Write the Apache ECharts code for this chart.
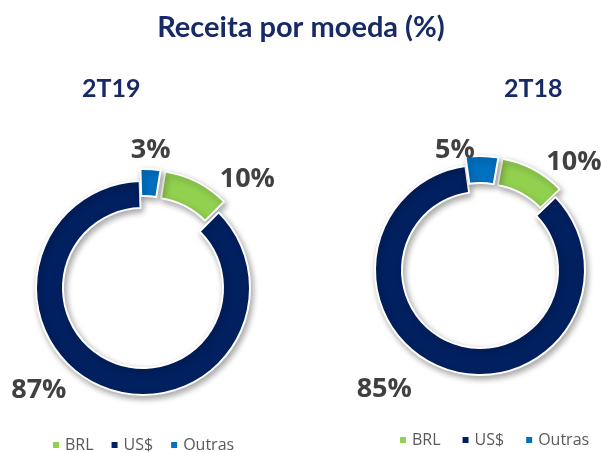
<!DOCTYPE html>
<html>
<head>
<meta charset="utf-8">
<script src="https://cdn.jsdelivr.net/npm/echarts@6/dist/echarts.min.js"></script>
<style>
  html, body { margin: 0; padding: 0; background: #fff; }
  #chart { width: 602px; height: 452px; }
</style>
</head>
<body>
<div id="chart"></div>
<script>
// dados do gráfico
var categories = ['BRL', 'US$', 'Outras'];
var values2T19 = [10, 87, 3];
var values2T18 = [10, 85, 5];
var exploded = [true, false, true];
var colors = ['#92D050', '#002060', '#0070C0'];

window.onload = function () {
  drawChart();
};

function pieData(values) {
  return categories.map(function (name, i) {
    return { name: name, value: values[i], selected: exploded[i] };
  });
}

// deslocamento dos rótulos em relação à posição padrão
function pieSeries(name, center, radius, startAngle, offset, values, shifts) {
  return {
    name: name,
    type: 'pie',
    center: center,
    radius: radius,
    startAngle: startAngle,
    clockwise: true,
    selectedMode: 'multiple',
    selectedOffset: offset,
    avoidLabelOverlap: false,
    itemStyle: {
      borderColor: '#fff',
      borderWidth: 2,
      shadowBlur: 6,
      shadowColor: 'rgba(0,0,0,0.35)',
      shadowOffsetX: 2,
      shadowOffsetY: 3
    },
    label: {
      show: true,
      position: 'outside',
      formatter: '{c}%',
      fontFamily: 'Open Sans',
      fontWeight: 'bold',
      fontSize: 27,
      color: '#404040'
    },
    labelLine: { show: false, length: 6, length2: 0 },
    labelLayout: function (params) {
      var s = shifts[params.dataIndex];
      return { dx: s[0], dy: s[1] };
    },
    emphasis: { disabled: true },
    data: pieData(values)
  };
}

function drawChart() {
  var myChart = echarts.init(document.getElementById('chart'));
  var legendText = { fontFamily: 'Open Sans', fontSize: 16, color: '#595959' };
  var option = {
    color: colors,
    animation: false,
    title: [
      {
        text: 'Receita por moeda (%)',
        left: 'center',
        top: 8,
        textStyle: { fontFamily: 'Lato', fontWeight: 'bold', fontSize: 29, color: '#172A66' }
      },
      {
        text: '2T19',
        left: 77,
        top: 71,
        textStyle: { fontFamily: 'Lato', fontWeight: 'bold', fontSize: 25, color: '#172A66' }
      },
      {
        text: '2T18',
        left: 499,
        top: 71,
        textStyle: { fontFamily: 'Lato', fontWeight: 'bold', fontSize: 25, color: '#172A66' }
      }
    ],
    legend: [
      {
        data: categories,
        left: 46,
        top: 432,
        icon: 'rect',
        itemWidth: 8,
        itemHeight: 8,
        itemGap: 16,
        selectedMode: false,
        textStyle: legendText
      },
      {
        data: categories,
        left: 393,
        top: 427,
        icon: 'rect',
        itemWidth: 8,
        itemHeight: 8,
        itemGap: 20,
        selectedMode: false,
        textStyle: legendText
      }
    ],
    series: [
      pieSeries('2T19', [143, 288], [80, 107], 81, 12, values2T19,
        [[15, 3], [-30, -3], [-25, -13]]),
      pieSeries('2T18', [480, 270], [78, 105], 80, 9, values2T18,
        [[5, -2], [-27, 14], [-52, 0]])
    ]
  };
  myChart.setOption(option);
}
</script>
</body>
</html>
